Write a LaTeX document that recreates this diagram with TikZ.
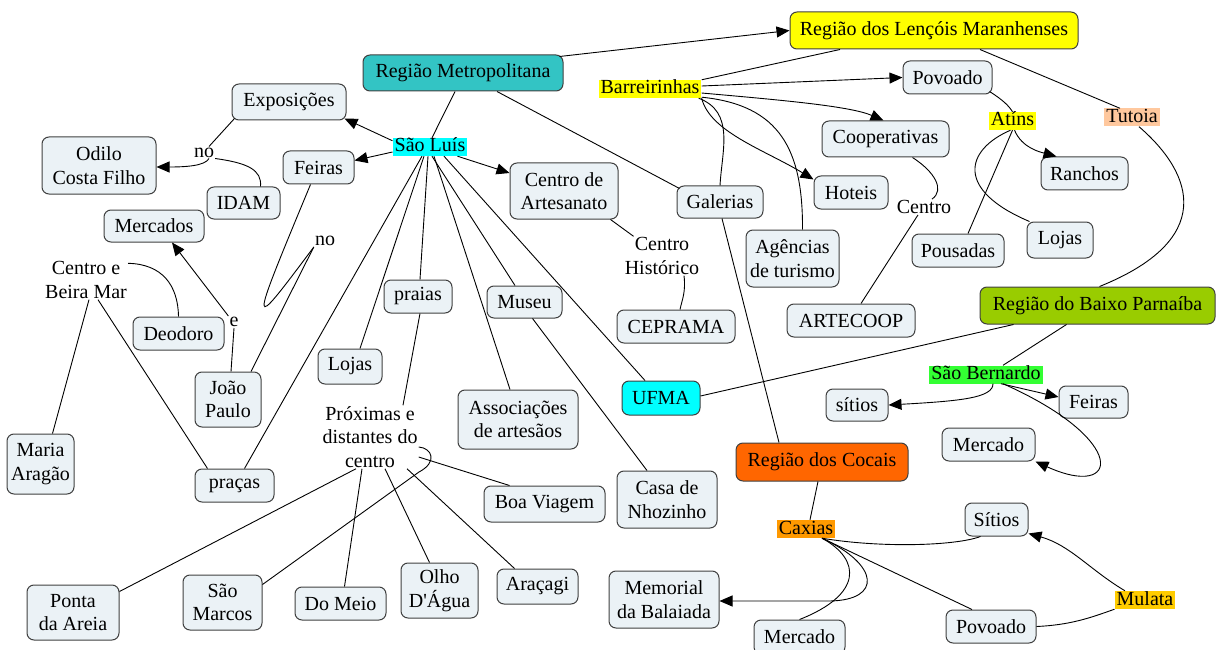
\documentclass[tikz,border=0pt]{standalone}
\usepackage{fontspec}
\setmainfont{Liberation Serif}
\usetikzlibrary{arrows.meta}
\definecolor{boxfill}{HTML}{EBF2F6}
\definecolor{cteal}{HTML}{33C4C4}
\definecolor{cyellow}{HTML}{FFFF00}
\definecolor{cpeach}{HTML}{FFC89E}
\definecolor{ccyan}{HTML}{00FFFF}
\definecolor{cgreen}{HTML}{99CC00}
\definecolor{cbright}{HTML}{33FF33}
\definecolor{corange}{HTML}{FF6600}
\definecolor{corangeb}{HTML}{FF9900}
\definecolor{cgold}{HTML}{FFCC00}
\newcommand{\mapfont}{\fontsize{20}{23.5}\selectfont}
\tikzset{
  bx/.style={draw=black!75, line width=1pt, rounded corners=7pt, fill=boxfill, align=center, inner sep=0pt, font=\mapfont},
  hl/.style={inner xsep=2pt, inner ysep=0pt, text height=14pt, text depth=4pt, font=\mapfont},
  lbl/.style={inner sep=1pt, align=center, font=\mapfont},
  ln/.style={line width=0.9pt, draw=black},
  ar/.style={ln, -{Triangle[length=13pt,width=11pt]}},
}
\begin{document}
\begin{tikzpicture}[x=1pt,y=-1pt]
\useasboundingbox (0,0) rectangle (1216,650);

% ---- boxes
\node[bx,fill=cteal,minimum width=200pt,minimum height=36pt] (regmet) at (463,73) {Região Metropolitana};
\node[bx,fill=cyellow,minimum width=288pt,minimum height=37pt] (lencois) at (934,30.5) {Região dos Lençóis Maranhenses};
\node[bx,minimum width=114pt,minimum height=36pt] (expos) at (289,102) {Exposições};
\node[bx,minimum width=114pt,minimum height=57pt] (odilo) at (99,165.5) {Odilo\\Costa Filho};
\node[bx,minimum width=73pt,minimum height=32pt] (idam) at (243.5,203) {IDAM};
\node[bx,minimum width=71pt,minimum height=33pt] (feirasL) at (318.5,167.5) {Feiras};
\node[bx,minimum width=100pt,minimum height=32pt] (mercados) at (154,226) {Mercados};
\node[bx,minimum width=108pt,minimum height=56pt] (centroart) at (564,191) {Centro de\\Artesanato};
\node[bx,minimum width=86pt,minimum height=32pt] (galerias) at (720,202) {Galerias};
\node[bx,minimum width=89pt,minimum height=33pt] (povoadoT) at (947.5,77.5) {Povoado};
\node[bx,minimum width=127pt,minimum height=36pt] (coop) at (885.5,139) {Cooperativas};
\node[bx,minimum width=87pt,minimum height=33pt] (ranchos) at (1084.5,173.5) {Ranchos};
\node[bx,minimum width=74pt,minimum height=33pt] (hoteis) at (851,192.5) {Hoteis};
\node[bx,minimum width=93pt,minimum height=57pt] (agencias) at (792.5,258.5) {Agências\\de turismo};
\node[bx,minimum width=92pt,minimum height=33pt] (pousadas) at (958,250.5) {Pousadas};
\node[bx,minimum width=66pt,minimum height=36pt] (lojasR) at (1060,240) {Lojas};
\node[bx,minimum width=68pt,minimum height=33pt] (praias) at (418,296.5) {praias};
\node[bx,minimum width=75pt,minimum height=32pt] (museu) at (524.5,302) {Museu};
\node[bx,fill=cgreen,minimum width=235pt,minimum height=37pt] (baixo) at (1097.5,305.5) {Região do Baixo Parnaíba};
\node[bx,minimum width=128pt,minimum height=33pt] (artecoop) at (851,320.5) {ARTECOOP};
\node[bx,minimum width=118pt,minimum height=33pt] (ceprama) at (676,326.5) {CEPRAMA};
\node[bx,minimum width=91pt,minimum height=33pt] (deodoro) at (178.5,333.5) {Deodoro};
\node[bx,minimum width=64pt,minimum height=35pt] (lojasL) at (350,366.5) {Lojas};
\node[bx,minimum width=66pt,minimum height=55pt] (joao) at (228,399.5) {João\\Paulo};
\node[bx,fill=ccyan,minimum width=78pt,minimum height=34pt] (ufma) at (661,398) {UFMA};
\node[bx,minimum width=62pt,minimum height=32pt] (sitiosR) at (857,405) {sítios};
\node[bx,minimum width=69pt,minimum height=32pt] (feirasR) at (1093.5,402) {Feiras};
\node[bx,minimum width=120pt,minimum height=59pt] (assoc) at (518,419.5) {Associações\\de artesãos};
\node[bx,minimum width=93pt,minimum height=33pt] (mercadoR) at (988.5,444.5) {Mercado};
\node[bx,minimum width=67pt,minimum height=60pt] (maria) at (40.5,464) {Maria\\Aragão};
\node[bx,fill=corange,minimum width=172pt,minimum height=38pt] (cocais) at (822,462) {Região dos Cocais};
\node[bx,minimum width=79pt,minimum height=33pt] (pracas) at (234.5,485.5) {praças};
\node[bx,minimum width=121pt,minimum height=36pt] (boa) at (544.5,504) {Boa Viagem};
\node[bx,minimum width=100pt,minimum height=57pt] (casa) at (667,499.5) {Casa de\\Nhozinho};
\node[bx,minimum width=63pt,minimum height=33pt] (sitios2) at (996.5,519.5) {Sítios};
\node[bx,minimum width=92pt,minimum height=55pt] (ponta) at (73,612.5) {Ponta\\da Areia};
\node[bx,minimum width=79pt,minimum height=55pt] (marcos) at (222.5,602.5) {São\\Marcos};
\node[bx,minimum width=91pt,minimum height=33pt] (domeio) at (340.5,603.5) {Do Meio};
\node[bx,minimum width=77pt,minimum height=55pt] (olho) at (439.5,590.5) {Olho\\D\textquotesingle Água};
\node[bx,minimum width=81pt,minimum height=35pt] (aracagi) at (537.5,586.5) {Araçagi};
\node[bx,minimum width=110pt,minimum height=57pt] (memorial) at (664,599.5) {Memorial\\da Balaiada};
\node[bx,minimum width=91pt,minimum height=34pt] (mercadoB) at (799.5,637) {Mercado};
\node[bx,minimum width=90pt,minimum height=33pt] (povoadoB) at (991,626.5) {Povoado};

% ---- highlighted words
\node[hl,fill=cyellow] (barreirinhas) at (650,89) {Barreirinhas};
\node[hl,fill=ccyan] (saoluis) at (430,147) {São Luís};
\node[hl,fill=cyellow] (atins) at (1012.5,121) {Atíns};
\node[hl,fill=cpeach] (tutoia) at (1132,117.5) {Tutoia};
\node[hl,fill=cbright] (saobernardo) at (986,374.5) {São Bernardo};
\node[hl,fill=corangeb] (caxias) at (806,529) {Caxias};
\node[hl,fill=cgold] (mulata) at (1145,600) {Mulata};

% ---- linking words
\node[lbl] (no1) at (204,152.5) {no};
\node[lbl] (no2) at (325,241) {no};
\node[lbl] (eLbl) at (234,322) {e};
\node[lbl] (centrobm) at (86,280) {Centro e\\Beira Mar};
\node[lbl] (centro) at (924,207) {Centro};
\node[lbl] (centrohist) at (662,256) {Centro\\Histórico};
\node[lbl] (proximas) at (370,437) {Próximas e\\distantes do\\centro};

% ---- connectors
\draw[ar] ([xshift=-4pt,yshift=-2pt]regmet.north east) -- (lencois.west);
\draw[ln] ([xshift=-8pt]regmet.south) -- ([xshift=2pt]saoluis.north);
\draw[ln] ([xshift=34pt]regmet.south) -- ([xshift=3pt,yshift=-3pt]galerias.north west);
\draw[ln] ([xshift=-94pt]lencois.south) -- (barreirinhas.north east);
\draw[ln] ([xshift=46pt]lencois.south) -- ([xshift=-12pt]tutoia.north);
\draw[ar] ([yshift=3pt]barreirinhas.east) -- (povoadoT.west);
\draw[ar] ([yshift=-4pt]barreirinhas.east) .. controls (780,100) and (850,106) .. ([xshift=-2pt]coop.north);
\draw[ar] (barreirinhas.south east) .. controls (710,132) and (765,150) .. ([yshift=-4pt]hoteis.north west);
\draw[ln] ([yshift=1pt]barreirinhas.south east) .. controls (780,105) and (803,150) .. ([xshift=10pt]agencias.north);
\draw[ln] ([xshift=-3pt]barreirinhas.south east) .. controls (735,112) and (722,150) .. (galerias.north);
\draw[ln] ([xshift=-3pt,yshift=3pt]povoadoT.south east) .. controls (1003,100) and (1009,106) .. (atins.north);
\draw[ar] ([xshift=2pt]atins.south) .. controls (1022,148) and (1040,152) .. ([xshift=16pt]ranchos.north west);
\draw[ln] (atins.south) -- ([xshift=10pt]pousadas.north);
\draw[ln] ([xshift=-2pt]atins.south) .. controls (965,150) and (955,190) .. ([xshift=3pt]lojasR.north west);
\draw[ln] ([xshift=7pt]tutoia.south) .. controls (1195,175) and (1215,240) .. ([xshift=2pt]baixo.north);
\draw[ln] ([xshift=27pt]coop.south) .. controls (935,172) and (945,190) .. ([xshift=8pt]centro.north);
\draw[ln] ([xshift=-6pt]centro.south) -- ([xshift=10pt]artecoop.north);
\draw[ln] ([xshift=2pt]galerias.south) -- ([xshift=-43pt]cocais.north);
\draw[ln] ([xshift=-8pt]centroart.south east) -- ([xshift=10pt]centrohist.north west);
\draw[ln] ([xshift=22pt]centrohist.south) .. controls (686,292) and (682,300) .. ([xshift=4pt]ceprama.north);

\draw[ar] ([yshift=-3pt]saoluis.north west) -- ([xshift=-2pt,yshift=2pt]expos.south east);
\draw[ar] ([yshift=-5pt]saoluis.west) -- ([yshift=7pt]feirasL.east);
\draw[ar] ([xshift=-10pt]saoluis.south east) -- ([yshift=18pt]centroart.west);
\draw[ln] ([xshift=-8pt]saoluis.south) -- ([xshift=10pt]pracas.north);
\draw[ln] ([xshift=-6pt]saoluis.south) -- ([xshift=10pt]lojasL.north);
\draw[ln] ([xshift=-2pt]saoluis.south) -- ([xshift=2pt]praias.north);
\draw[ln] ([xshift=2pt]saoluis.south) -- ([xshift=-9.5pt]museu.north);
\draw[ln] ([xshift=4pt]saoluis.south) -- ([xshift=-8pt]assoc.north);
\draw[ln] ([xshift=14pt]saoluis.south) -- ([xshift=-16pt]ufma.north);
\draw[ln] ([xshift=8pt]museu.south) -- ([xshift=-20pt]casa.north);

\draw[ln] ([xshift=-8pt]feirasL.south) .. controls (248,335) and (248,335) .. (no2.south west);
\draw[ln] (no2.south west) -- ([xshift=23pt]joao.north);
\draw[ln] ([xshift=3pt]joao.north) -- (eLbl.south);
\draw[ar] (eLbl.north west) -- ([xshift=18pt]mercados.south);
\draw[ln] (deodoro.north) .. controls (178,285) and (162,264) .. ([yshift=-3pt]centrobm.north east);
\draw[ln] ([xshift=3pt]centrobm.south) -- ([xshift=12pt]maria.north);
\draw[ln] ([xshift=12pt]centrobm.south) -- ([xshift=-27pt]pracas.north);

\draw[ln] ([xshift=3pt,yshift=2pt]expos.south west) -- ([xshift=5pt]no1.north);
\draw[ar] ([xshift=5pt]no1.south) .. controls (205,166) and (185,167) .. ([yshift=-1.5pt]odilo.east);
\draw[ln] (no1.south east) .. controls (248,163) and (262,170) .. ([xshift=17pt]idam.north);

\draw[ln] ([xshift=2pt]praias.south) -- ([xshift=33pt]proximas.north);
\draw[ln] ([yshift=-20pt]proximas.east) -- ([xshift=-35pt]boa.north);
\draw[ln] ([xshift=37pt]proximas.south) -- ([xshift=-23pt]aracagi.north);
\draw[ln] ([xshift=15pt]proximas.south) -- ([xshift=-10pt]olho.north);
\draw[ln] ([xshift=-8pt]proximas.south) -- ([xshift=4pt]domeio.north);
\draw[ln] ([xshift=-14pt]proximas.south) -- ([yshift=-7pt]ponta.north east);
\draw[ln] ([yshift=-10pt]proximas.east) .. controls (432,448) and (438,462) .. (419,472) -- ([yshift=-10pt]marcos.north east);

\draw[ln] ([xshift=-84pt]baixo.south) -- ([yshift=2pt]ufma.east);
\draw[ln] ([xshift=-31pt]baixo.south) -- ([xshift=17pt]saobernardo.north);
\draw[ar] ([xshift=7pt]saobernardo.south) .. controls (993,398) and (960,401) .. (sitiosR.east);
\draw[ar] ([xshift=15pt]saobernardo.south) -- ([yshift=5pt]feirasR.west);
\draw[ar] ([xshift=17pt]saobernardo.south) .. controls (1130,440) and (1120,500) .. (mercadoR.south east);

\draw[ln] ([xshift=-4pt]cocais.south) -- ([xshift=4pt]caxias.north);
\draw[ln] ([xshift=16pt]caxias.south) .. controls (880,548) and (955,546) .. ([xshift=-16pt]sitios2.south);
\draw[ar] ([xshift=16pt]caxias.south) .. controls (880,565) and (882,600) .. (830,601) -- ([yshift=-1.5pt]memorial.east);
\draw[ln] ([xshift=16pt]caxias.south) .. controls (862,560) and (862,595) .. (mercadoB.north);
\draw[ln] ([xshift=16pt]caxias.south) -- ([xshift=-19pt]povoadoB.north);
\draw[ar] ([xshift=-20pt]mulata.north) .. controls (1090,570) and (1070,545) .. ([yshift=3pt]sitios2.south east);
\draw[ln] (povoadoB.east) .. controls (1070,625) and (1090,618) .. (mulata.south west);
\end{tikzpicture}
\end{document}
